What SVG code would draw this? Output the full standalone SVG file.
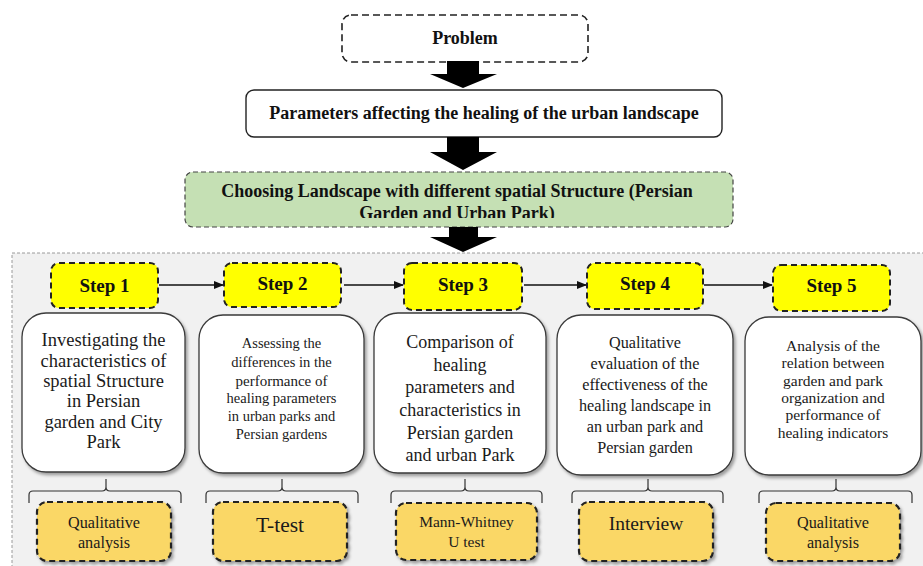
<svg xmlns="http://www.w3.org/2000/svg" width="923" height="566" viewBox="0 0 923 566">
<style>
.t{font-family:"Liberation Serif","Times New Roman",serif;fill:#1a1a1a;text-anchor:middle}
.b{font-weight:bold;fill:#111}
.big{fill:#000}
.step rect{fill:#ffff00;stroke:#222;stroke-width:2;stroke-dasharray:6 4}
.desc rect{fill:#fff;stroke:#3a3a3a;stroke-width:1.3}
.meth rect{fill:#fad766;stroke:#222;stroke-width:2.2;stroke-dasharray:6 4}
.brace{fill:none;stroke:#333;stroke-width:1.2}
.conn line{stroke:#111;stroke-width:1.6}
</style>
<defs>
<marker id="ah" markerWidth="10" markerHeight="10" refX="9" refY="5" orient="auto" markerUnits="userSpaceOnUse">
<path d="M0,1 L10,5 L0,9 Z" fill="#111"/>
</marker>
<filter id="sh" x="-10%" y="-10%" width="125%" height="130%">
<feDropShadow dx="2" dy="2.5" stdDeviation="1.5" flood-color="#000" flood-opacity="0.35"/>
</filter>
<clipPath id="gclip"><rect x="186" y="173" width="546" height="45"/></clipPath>
</defs>

<rect x="12" y="253" width="920" height="320" fill="#f1f1f1" stroke="#9a9a9a" stroke-width="1" stroke-dasharray="3 2"/>

<g id="problem">
<rect x="342" y="15" width="246" height="47" rx="9" fill="#fff" stroke="#222" stroke-width="1.6" stroke-dasharray="7 4"/>
<text class="t b" x="465" y="44" font-size="18">Problem</text>
</g>

<g id="parameters">
<rect x="246" y="90" width="476" height="47" rx="8" fill="#fff" stroke="#222" stroke-width="1.4"/>
<text class="t b" x="484" y="119" font-size="18">Parameters affecting the healing of the urban landscape</text>
</g>

<g id="choosing">
<rect x="185" y="172" width="548" height="55" rx="8" fill="#c5e0b4" stroke="#444" stroke-width="1.2" stroke-dasharray="5 3"/>
<g clip-path="url(#gclip)">
<text class="t b" x="457" y="197" font-size="18">Choosing Landscape with different spatial Structure (Persian</text>
<text class="t b" x="457" y="219" font-size="18">Garden and Urban Park)</text>
</g>
</g>

<g id="big-arrows" class="big">
<path d="M447,61 H479 V74 H497 L463,88 L430,74 H447 Z"/>
<path d="M447,137 H479 V152 H497 L463,170 L430,152 H447 Z"/>
<path d="M449,227 H478 V237 H497 L463,252 L430,237 H449 Z"/>
</g>

<g id="connectors" class="conn">
<line x1="159" y1="285" x2="223" y2="285" marker-end="url(#ah)"/>
<line x1="344" y1="285" x2="403" y2="285" marker-end="url(#ah)"/>
<line x1="524" y1="285" x2="586" y2="285" marker-end="url(#ah)"/>
<line x1="704" y1="285" x2="772" y2="285" marker-end="url(#ah)"/>
</g>

<g id="step1" class="step"><rect x="51" y="263" width="107" height="45" rx="8"/><text class="t b" x="104.5" y="292" font-size="19">Step 1</text></g>
<g id="step2" class="step"><rect x="224" y="263" width="117" height="44" rx="8"/><text class="t b" x="282.5" y="290" font-size="19">Step 2</text></g>
<g id="step3" class="step"><rect x="404" y="263" width="118" height="47" rx="8"/><text class="t b" x="463" y="291" font-size="19">Step 3</text></g>
<g id="step4" class="step"><rect x="587" y="263" width="116" height="46" rx="8"/><text class="t b" x="645" y="290" font-size="19">Step 4</text></g>
<g id="step5" class="step"><rect x="773" y="265" width="117" height="46" rx="8"/><text class="t b" x="831.5" y="292" font-size="19">Step 5</text></g>

<g id="desc1" class="desc">
<rect x="22" y="313" width="163" height="159" rx="24" filter="url(#sh)"/>
<text class="t" font-size="18.5"><tspan x="103.5" y="346">Investigating the</tspan><tspan x="103.5" y="366.5">characteristics of</tspan><tspan x="103.5" y="387">spatial Structure</tspan><tspan x="103.5" y="407">in Persian</tspan><tspan x="103.5" y="427.5">garden and City</tspan><tspan x="103.5" y="448">Park</tspan></text>
</g>
<g id="desc2" class="desc">
<rect x="199" y="315" width="165" height="158" rx="24" filter="url(#sh)"/>
<text class="t" font-size="14.5"><tspan x="281.5" y="348">Assessing the</tspan><tspan x="281.5" y="367">differences in the</tspan><tspan x="281.5" y="386" font-size="15">performance of</tspan><tspan x="281.5" y="403">healing parameters</tspan><tspan x="281.5" y="421">in urban parks and</tspan><tspan x="281.5" y="439">Persian gardens</tspan></text>
</g>
<g id="desc3" class="desc">
<rect x="374" y="313" width="172" height="160" rx="24" filter="url(#sh)"/>
<text class="t" font-size="18"><tspan x="460" y="348">Comparison of</tspan><tspan x="460" y="371">healing</tspan><tspan x="460" y="393">parameters and</tspan><tspan x="460" y="416">characteristics in</tspan><tspan x="460" y="439">Persian garden</tspan><tspan x="460" y="461">and urban Park</tspan></text>
</g>
<g id="desc4" class="desc">
<rect x="557" y="315" width="176" height="160" rx="24" filter="url(#sh)"/>
<text class="t" font-size="16.2"><tspan x="645" y="348">Qualitative</tspan><tspan x="645" y="369">evaluation of the</tspan><tspan x="645" y="390">effectiveness of the</tspan><tspan x="645" y="411">healing landscape in</tspan><tspan x="645" y="432">an urban park and</tspan><tspan x="645" y="453">Persian garden</tspan></text>
</g>
<g id="desc5" class="desc">
<rect x="745" y="317" width="176" height="158" rx="24" filter="url(#sh)"/>
<text class="t" font-size="15.5"><tspan x="833" y="351">Analysis of the</tspan><tspan x="833" y="368">relation between</tspan><tspan x="833" y="385.5">garden and park</tspan><tspan x="833" y="403">organization and</tspan><tspan x="833" y="420">performance of</tspan><tspan x="833" y="437.5">healing indicators</tspan></text>
</g>

<g id="braces" class="brace">
<path d="M29,503 V495 Q29,491 33,491 H102 Q106,491 106,487 V479 M106,479 V487 Q106,491 110,491 H177 Q181,491 181,495 V503"/>
<path d="M206,503 V495 Q206,491 210,491 H278 Q282,491 282,487 V479 M282,487 Q282,491 286,491 H354 Q358,491 358,495 V503"/>
<path d="M391,503 V495 Q391,491 395,491 H461 Q465,491 465,487 V479 M465,487 Q465,491 469,491 H538 Q542,491 542,495 V503"/>
<path d="M572,503 V495 Q572,491 576,491 H644 Q648,491 648,487 V479 M648,487 Q648,491 652,491 H719 Q723,491 723,495 V503"/>
<path d="M759,503 V495 Q759,491 763,491 H832 Q836,491 836,487 V479 M836,487 Q836,491 840,491 H908 Q912,491 912,495 V503"/>
</g>

<g id="method1" class="meth"><rect x="37" y="502" width="134" height="59" rx="10" filter="url(#sh)"/><text class="t" font-size="16.2"><tspan x="104" y="528">Qualitative</tspan><tspan x="104" y="548">analysis</tspan></text></g>
<g id="method2" class="meth"><rect x="213" y="502" width="134" height="59" rx="10" filter="url(#sh)"/><text class="t" x="280" y="532" font-size="21.5">T-test</text></g>
<g id="method3" class="meth"><rect x="396" y="503" width="141" height="57" rx="10" filter="url(#sh)"/><text class="t" font-size="15.5"><tspan x="466.5" y="527">Mann-Whitney</tspan><tspan x="466.5" y="547">U test</tspan></text></g>
<g id="method4" class="meth"><rect x="579" y="502" width="134" height="59" rx="10" filter="url(#sh)"/><text class="t" x="646" y="530" font-size="19.5">Interview</text></g>
<g id="method5" class="meth"><rect x="766" y="503" width="134" height="58" rx="10" filter="url(#sh)"/><text class="t" font-size="16.2"><tspan x="833" y="528">Qualitative</tspan><tspan x="833" y="548">analysis</tspan></text></g>
</svg>
